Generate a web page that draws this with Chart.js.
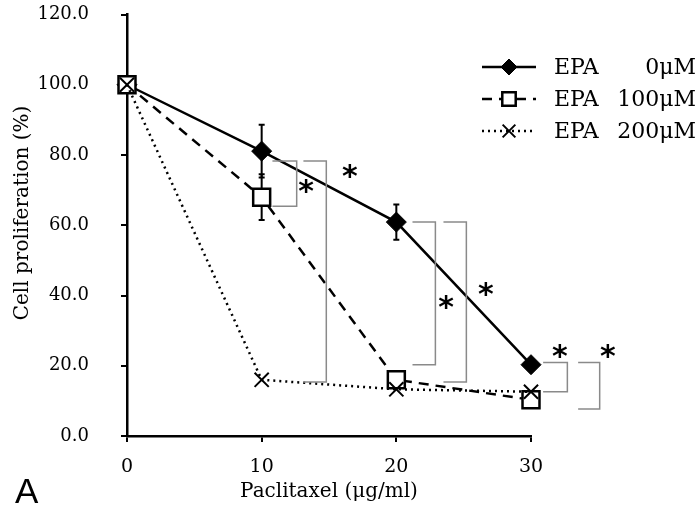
<!DOCTYPE html>
<html>
<head>
<meta charset="utf-8">
<script src="https://cdn.jsdelivr.net/npm/chart.js@4"></script>
<style>
  html, body { margin: 0; padding: 0; background: #fff; }
  #wrap { width: 699px; height: 510px; position: relative; }
</style>
</head>
<body>
<div id="wrap"><canvas id="myChart"></canvas></div>
<script>
// 数据
var doses = [0, 10, 20, 30];
var epa0 = [100, 81.1, 60.9, 20.3];
var epa100 = [100, 68.0, 16.0, 10.3];
var epa200 = [100, 16.0, 13.3, 12.6];
var err0 = [0, 7.5, 5.0, 0];
var err100 = [0, 6.5, 0, 0];
var err200 = [0, 0, 0, 0];
var labels = ['EPA 0μM', 'EPA 100μM', 'EPA 200μM'];
var yTicks = [0, 20, 40, 60, 80, 100, 120];
var yTitle = 'Cell proliferation (%)';
var xTitle = 'Paclitaxel (μg/ml)';

// 显著性括号: [x左, x右, y上, y下]
var brackets = [
  [10.8, 12.6, 78.3, 65.4],
  [13.1, 14.8, 78.3, 15.4],
  [21.2, 22.9, 60.9, 20.3],
  [23.5, 25.2, 60.9, 15.4],
  [30.9, 32.7, 20.9, 12.6],
  [33.5, 35.1, 20.9, 7.7]
];
// 星号位置 [x, y]
var stars = [[13.3, 70.9], [16.55, 75.4], [23.7, 38.0], [26.65, 41.7], [32.15, 24.0], [35.7, 24.0]];

var serif = "'DejaVu Serif', serif";

function pts(ys) {
  return doses.map(function (x, i) { return { x: x, y: ys[i] }; });
}

var data = {
  datasets: [{
    label: labels[0],
    data: pts(epa0),
    errs: err0,
    order: 3,
    borderColor: '#000',
    borderWidth: 2.5,
    pointStyle: 'rectRot',
    pointRadius: 10,
    legendRadius: 8,
    pointBackgroundColor: '#000',
    pointBorderColor: '#000',
    pointBorderWidth: 1,
    clip: false
  }, {
    label: labels[1],
    data: pts(epa100),
    errs: err100,
    order: 2,
    borderColor: '#000',
    borderWidth: 2.5,
    borderDash: [10, 7],
    pointStyle: 'rect',
    pointRadius: 12,
    legendRadius: 9.5,
    pointBackgroundColor: '#fff',
    pointBorderColor: '#000',
    pointBorderWidth: 2.5,
    clip: false
  }, {
    label: labels[2],
    data: pts(epa200),
    errs: err200,
    order: 1,
    borderColor: '#000',
    borderWidth: 2.5,
    borderDash: [2, 4],
    pointStyle: 'crossRot',
    pointRadius: 10,
    legendRadius: 9,
    pointBorderColor: '#000',
    pointBorderWidth: 2,
    clip: false
  }]
};

function drawMarker(c, ds, x, y, r) {
  c.fillStyle = ds.pointBackgroundColor || 'rgba(0,0,0,0)';
  c.strokeStyle = '#000';
  c.lineWidth = ds.pointBorderWidth;
  Chart.helpers.drawPoint(c, { pointStyle: ds.pointStyle, radius: r, borderWidth: ds.pointBorderWidth }, x, y);
}

// 误差线、括号、图例
var extras = {
  id: 'extras',
  beforeDatasetsDraw: function (chart) {
    var c = chart.ctx, xs = chart.scales.x, ys = chart.scales.y;
    c.save();
    c.strokeStyle = '#000';
    c.lineWidth = 2;
    chart.data.datasets.forEach(function (ds) {
      ds.data.forEach(function (p, i) {
        var e = ds.errs[i];
        if (!e) return;
        var px = xs.getPixelForValue(p.x);
        var t = ys.getPixelForValue(p.y + e), b = ys.getPixelForValue(p.y - e);
        c.beginPath();
        c.moveTo(px, t); c.lineTo(px, b);
        c.moveTo(px - 3, t); c.lineTo(px + 3, t);
        c.moveTo(px - 3, b); c.lineTo(px + 3, b);
        c.stroke();
      });
    });
    c.restore();
  },
  afterDraw: function (chart) {
    var c = chart.ctx, xs = chart.scales.x, ys = chart.scales.y;
    c.save();
    // 括号
    c.strokeStyle = '#8a8a8a';
    c.lineWidth = 1.5;
    brackets.forEach(function (b) {
      var x0 = xs.getPixelForValue(b[0]), x1 = xs.getPixelForValue(b[1]);
      var y0 = ys.getPixelForValue(b[2]), y1 = ys.getPixelForValue(b[3]);
      c.beginPath();
      c.moveTo(x0, y0); c.lineTo(x1, y0); c.lineTo(x1, y1); c.lineTo(x0, y1);
      c.stroke();
    });
    // 星号
    c.fillStyle = '#000';
    c.font = "bold 30px 'DejaVu Sans'";
    c.textAlign = 'center';
    c.textBaseline = 'alphabetic';
    var m = c.measureText('*');
    var off = (m.actualBoundingBoxAscent - m.actualBoundingBoxDescent) / 2;
    stars.forEach(function (s) {
      c.fillText('*', xs.getPixelForValue(s[0]), ys.getPixelForValue(s[1]) + off);
    });

    // 图例
    var rows = [67, 99, 131];
    chart.data.datasets.forEach(function (ds, i) {
      var y = rows[i];
      c.strokeStyle = '#000';
      c.lineWidth = 2.5;
      c.setLineDash(ds.borderDash || []);
      c.beginPath();
      c.moveTo(482, y); c.lineTo(536, y);
      c.stroke();
      c.setLineDash([]);
      drawMarker(c, ds, 509, y, ds.legendRadius);
      var parts = ds.label.split(' ');
      c.fillStyle = '#000';
      c.font = '22px ' + serif;
      c.textBaseline = 'middle';
      c.textAlign = 'left';
      c.fillText(parts[0], 554, y + 1);
      c.textAlign = 'right';
      c.fillText(parts[1], 696, y + 1);
    });

    // y 轴标题
    c.save();
    c.translate(23, 213);
    c.rotate(-Math.PI / 2);
    c.font = '20px ' + serif;
    c.textAlign = 'center';
    c.textBaseline = 'middle';
    c.fillText(yTitle, 0, 0);
    c.restore();

    // 图号
    c.font = "35px 'Liberation Sans'";
    c.textAlign = 'left';
    c.textBaseline = 'alphabetic';
    c.fillStyle = '#000';
    c.fillText('A', 15, 503);
    c.restore();
  }
};

var options = {
  responsive: true,
  maintainAspectRatio: false,
  animation: false,
  layout: { padding: { top: 2, right: 168, left: 0, bottom: 0 } },
  plugins: { legend: { display: false }, tooltip: { enabled: false } },
  scales: {
    x: {
      type: 'linear',
      min: 0, max: 30,
      afterFit: function (s) { s.height = 74; },
      ticks: { stepSize: 10, color: '#000', font: { family: serif, size: 19 }, padding: 14 },
      grid: { drawOnChartArea: false, color: '#000', lineWidth: 2, tickLength: 6 },
      border: { color: '#000', width: 2.5 },
      title: {
        display: true,
        text: xTitle,
        color: '#000',
        font: { family: serif, size: 20 },
        padding: { top: 0, bottom: 6 }
      }
    },
    y: {
      min: 0, max: 120,
      afterFit: function (s) { s.width = 127; s.paddingTop = 0; },
      afterBuildTicks: function (s) { s.ticks = yTicks.map(function (v) { return { value: v }; }); },
      ticks: {
        color: '#000',
        font: { family: serif, size: 18 },
        padding: 32,
        callback: function (v) { return v.toFixed(1); }
      },
      grid: { drawOnChartArea: false, color: '#000', lineWidth: 2, tickLength: 6 },
      border: { color: '#000', width: 2.5 },
      title: { display: false }
    }
  }
};

var ctx = document.getElementById('myChart').getContext('2d');
var myChart = new Chart(ctx, { type: 'line', data: data, options: options, plugins: [extras] });
</script>
</body>
</html>
